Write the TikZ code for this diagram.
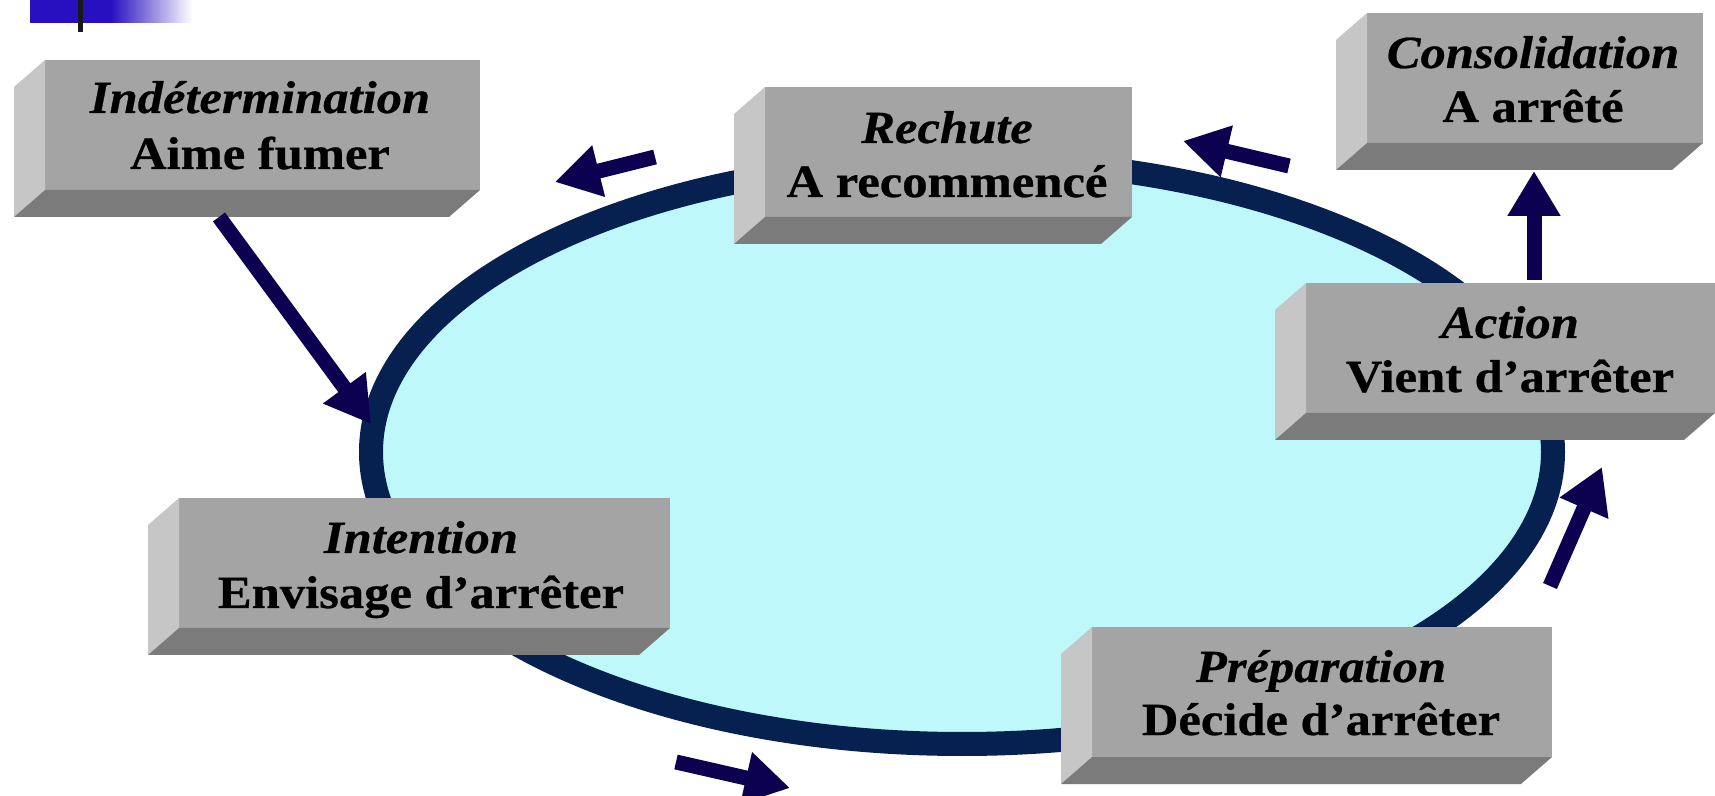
\documentclass[tikz,border=0pt]{standalone}
\usepackage{fontspec}
\setmainfont{Liberation Serif}[FakeStretch=1.10,FakeBold=0.6]
\usetikzlibrary{arrows.meta}
\definecolor{arrowcol}{HTML}{0C0050}
\definecolor{ringcol}{HTML}{06204F}
\definecolor{ringfill}{HTML}{BEF8FB}
\definecolor{facecol}{HTML}{A4A4A4}
\definecolor{bevlcol}{HTML}{C6C6C6}
\definecolor{bevbcol}{HTML}{7B7B7B}
\definecolor{barblue}{HTML}{2810C0}
\begin{document}
\begin{tikzpicture}[x=0.5pt,y=-0.5pt,
  face/.style={fill=facecol, inner sep=0pt, outer sep=0pt, minimum height=65pt},
  bevleft/.style={fill=bevlcol},
  bevbot/.style={fill=bevbcol},
  ttl/.style={anchor=base, font=\fontsize{23}{27}\selectfont\bfseries\itshape, inner sep=0pt},
  sub/.style={anchor=base, font=\fontsize{23}{27}\selectfont\bfseries, inner sep=0pt},
  flow/.style={draw=arrowcol, line width=7.5pt, -{Triangle[width=25pt,length=22.5pt]}},
]
\useasboundingbox (0,0) rectangle (1715,796);

% top-left decoration
\fill[barblue] (30,0) rectangle (112,23);
\shade[left color=barblue, right color=white] (111,0) rectangle (192,23);
\fill[black!90] (78,0) rectangle (83,32);

% cycle ring
\coordinate (ring) at (962,452);
\draw[ringcol, fill=ringfill, line width=12pt] (ring) ellipse [x radius=591, y radius=292];

% boxes (front faces)
\node[face, minimum width=217.5pt] (indet) at (262.5,125) {};
\node[face, minimum width=183.5pt] (rech) at (948.5,152) {};
\node[face, minimum width=168pt, minimum height=65pt] (cons) at (1535,78) {};
\node[face, minimum width=204.5pt] (act) at (1510.5,348) {};
\node[face, minimum width=245.5pt] (inten) at (424.5,563) {};
\node[face, minimum width=230pt] (prep) at (1322,692) {};

% bevels
\foreach \n in {indet,rech,cons,act,inten,prep}{
  \fill[bevleft] (\n.north west) -- ++(-31,27) -- ([shift={(-31,27)}]\n.south west) -- (\n.south west) -- cycle;
  \fill[bevbot] (\n.south west) -- (\n.south east) -- ([shift={(-31,27)}]\n.south east) -- ([shift={(-31,27)}]\n.south west) -- cycle;
}

% texts
\node[ttl] (indet-t) at (260,113) {Indétermination};
\node[sub] (indet-s) at (260,169) {Aime fumer};
\node[ttl] (rech-t) at (947,143) {Rechute};
\node[sub] (rech-s) at (947,197) {A recommencé};
\node[ttl] (cons-t) at (1533,68) {Consolidation};
\node[sub] (cons-s) at (1533,122) {A arrêté};
\node[ttl] (act-t) at (1510,338) {Action};
\node[sub] (act-s) at (1510,392) {Vient d’arrêter};
\node[ttl] (inten-t) at (421,553) {Intention};
\node[sub] (inten-s) at (421,608) {Envisage d’arrêter};
\node[ttl] (prep-t) at (1321,682) {Préparation};
\node[sub] (prep-s) at (1321,735) {Décide d’arrêter};

% arrows
\coordinate (a1s) at (219,217);
\coordinate (a1e) at (371,424);
\draw[flow] (a1s) -- (a1e);
\coordinate (a2s) at (655,157);
\coordinate (a2e) at (555,182);
\draw[flow] (a2s) -- (a2e);
\coordinate (a3s) at (1289,166);
\coordinate (a3e) at (1183,141);
\draw[flow] (a3s) -- (a3e);
\coordinate (a4s) at (1534,280);
\coordinate (a4e) at (1534,171);
\draw[flow] (a4s) -- (a4e);
\coordinate (a5s) at (1550,586);
\coordinate (a5e) at (1602,467);
\draw[flow] (a5s) -- (a5e);
\coordinate (a6s) at (676,762);
\coordinate (a6e) at (790,788);
\draw[flow] (a6s) -- (a6e);
\end{tikzpicture}
\end{document}
